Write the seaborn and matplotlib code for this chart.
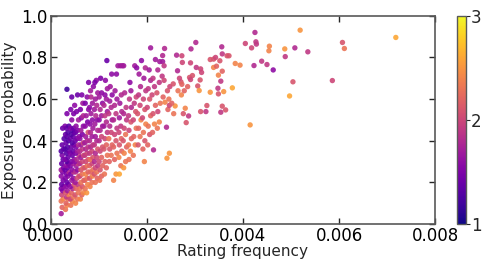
import matplotlib
matplotlib.use("Agg")
import matplotlib.pyplot as plt
import seaborn as sns
import pandas as pd
from matplotlib.colors import Normalize
from matplotlib.cm import ScalarMappable

rating_frequency = [
    0.00022, 0.00024, 0.00022, 0.00026, 0.00023, 0.00025, 0.00022, 0.00027, 0.00023, 0.00026, 0.00022, 0.00025,
    0.00022, 0.00027, 0.00023, 0.00026, 0.00024, 0.00022, 0.00027, 0.00024, 0.00028, 0.00025, 0.00030,
    0.00031, 0.00034, 0.00032, 0.00036, 0.00033, 0.00038, 0.00031, 0.00035, 0.00032, 0.00037, 0.00034, 0.00031,
    0.00036, 0.00033, 0.00038, 0.00030, 0.00035, 0.00032, 0.00037, 0.00034, 0.00031, 0.00036, 0.00033, 0.00038,
    0.00030, 0.00035, 0.00032, 0.00037, 0.00034, 0.00031, 0.00036, 0.00033, 0.00038, 0.00034, 0.00034,
    0.00042, 0.00045, 0.00041, 0.00048, 0.00043, 0.00046, 0.00041, 0.00049, 0.00044, 0.00047, 0.00042, 0.00048,
    0.00045, 0.00041, 0.00047, 0.00043, 0.00049, 0.00045, 0.00041, 0.00047, 0.00043, 0.00049, 0.00045, 0.00041,
    0.00047, 0.00043, 0.00049, 0.00045, 0.00041, 0.00048, 0.00044, 0.00042, 0.00044, 0.00048,
    0.00052, 0.00056, 0.00051, 0.00058, 0.00053, 0.00057, 0.00051, 0.00055, 0.00059, 0.00052, 0.00056, 0.00053,
    0.00058, 0.00051, 0.00055, 0.00059, 0.00052, 0.00056, 0.00053, 0.00058, 0.00051, 0.00055, 0.00059, 0.00052,
    0.00056, 0.00053, 0.00058, 0.00054, 0.00056, 0.00050,
    0.00062, 0.00065, 0.00068, 0.00061, 0.00066, 0.00063, 0.00069, 0.00061, 0.00066, 0.00063, 0.00068, 0.00061,
    0.00066, 0.00063, 0.00069, 0.00061, 0.00066, 0.00063, 0.00068, 0.00061, 0.00066, 0.00063, 0.00068, 0.00064,
    0.00062, 0.00067, 0.00065, 0.00068,
    0.00075, 0.00072, 0.00077, 0.00071, 0.00076, 0.00073, 0.00078, 0.00071, 0.00076, 0.00073, 0.00078, 0.00071,
    0.00076, 0.00073, 0.00078, 0.00071, 0.00076, 0.00073, 0.00078, 0.00072, 0.00077, 0.00074, 0.00079, 0.00072,
    0.00076, 0.00079,
    0.00082, 0.00086, 0.00081, 0.00087, 0.00083, 0.00088, 0.00081, 0.00086, 0.00083, 0.00088, 0.00081, 0.00086,
    0.00083, 0.00088, 0.00081, 0.00086, 0.00083, 0.00088, 0.00082, 0.00087, 0.00084, 0.00081, 0.00087, 0.00084,
    0.00089, 0.00083,
    0.00093, 0.00097, 0.00091, 0.00096, 0.00093, 0.00098, 0.00091, 0.00096, 0.00093, 0.00098, 0.00091, 0.00096,
    0.00093, 0.00098, 0.00092, 0.00097, 0.00094, 0.00091, 0.00096, 0.00093, 0.00098, 0.00095, 0.00092,
    0.00102, 0.00106, 0.00103, 0.00108, 0.00101, 0.00106, 0.00103, 0.00108, 0.00101, 0.00106, 0.00103, 0.00108,
    0.00101, 0.00106, 0.00103, 0.00108, 0.00101, 0.00106, 0.00104,
    0.00112, 0.00116, 0.00113, 0.00118, 0.00111, 0.00116, 0.00113, 0.00118, 0.00111, 0.00116, 0.00113, 0.00118,
    0.00111, 0.00116, 0.00113, 0.00118, 0.00117, 0.00114,
    0.00122, 0.00126, 0.00123, 0.00128, 0.00121, 0.00126, 0.00123, 0.00128, 0.00121, 0.00126, 0.00123, 0.00128,
    0.00124, 0.00127,
    0.00131, 0.00136, 0.00133, 0.00138, 0.00131, 0.00136, 0.00133, 0.00138, 0.00131, 0.00136, 0.00133, 0.00138,
    0.00134, 0.00137, 0.00140,
    0.00143, 0.00146, 0.00142, 0.00148, 0.00143, 0.00147, 0.00142, 0.00146, 0.00143, 0.00148, 0.00144, 0.00147,
    0.00145, 0.00149,
    0.00152, 0.00156, 0.00153, 0.00158, 0.00151, 0.00156, 0.00153, 0.00158, 0.00152, 0.00157, 0.00154, 0.00152,
    0.00163, 0.00166, 0.00162, 0.00168, 0.00163, 0.00167, 0.00162, 0.00168, 0.00164, 0.00167, 0.00165,
    0.00172, 0.00176, 0.00173, 0.00178, 0.00172, 0.00177, 0.00174, 0.00178, 0.00175, 0.00179,
    0.00182, 0.00186, 0.00183, 0.00188, 0.00181, 0.00186, 0.00183, 0.00187, 0.00184, 0.00189,
    0.00195, 0.00192, 0.00196, 0.00193, 0.00198, 0.00191, 0.00196, 0.00193, 0.00198, 0.00194, 0.00197,
    0.00202, 0.00206, 0.00203, 0.00208, 0.00201, 0.00206, 0.00203, 0.00208, 0.00208, 0.00205,
    0.00214, 0.00212, 0.00216, 0.00213, 0.00218, 0.00211, 0.00216, 0.00213, 0.00218,
    0.00222, 0.00226, 0.00223, 0.00228, 0.00221, 0.00226, 0.00223, 0.00227,
    0.00233, 0.00237, 0.00233, 0.00236, 0.00232, 0.00236, 0.00234, 0.00238, 0.00241, 0.00242, 0.00247, 0.00244,
    0.00247, 0.00246, 0.00243, 0.00248,
    0.00255, 0.00259, 0.00252, 0.00256, 0.00262, 0.00264, 0.00271, 0.00273, 0.00273, 0.00274, 0.00265, 0.00272,
    0.00268, 0.00278, 0.00280, 0.00276,
    0.00282, 0.00287, 0.00289, 0.00295, 0.00291, 0.00291, 0.00292, 0.00302, 0.00303, 0.00312, 0.00314, 0.00311,
    0.00306, 0.00309, 0.00312, 0.00285,
    0.00323, 0.00325, 0.00332, 0.00332, 0.00339, 0.00343, 0.00339, 0.00345, 0.00348, 0.00349, 0.00349, 0.00352,
    0.00354, 0.00354, 0.00356, 0.00357, 0.00357, 0.00357, 0.00360, 0.00364, 0.00367, 0.00371, 0.00378,
    0.00384, 0.00394, 0.00405, 0.00415, 0.00418, 0.00423, 0.00425, 0.00427, 0.00428, 0.00439, 0.00450, 0.00454,
    0.00455, 0.00463, 0.00487, 0.00488, 0.00497, 0.00504, 0.00508, 0.00519, 0.00535, 0.00586, 0.00607, 0.00611,
    0.00718,
]

exposure_probability = [
    0.05, 0.08, 0.11, 0.12, 0.14, 0.16, 0.17, 0.18, 0.19, 0.21, 0.23, 0.25,
    0.26, 0.27, 0.29, 0.31, 0.33, 0.35, 0.36, 0.38, 0.41, 0.46, 0.47,
    0.07, 0.09, 0.10, 0.12, 0.13, 0.14, 0.15, 0.16, 0.18, 0.19, 0.20, 0.22,
    0.23, 0.24, 0.25, 0.26, 0.27, 0.28, 0.29, 0.30, 0.31, 0.32, 0.34, 0.35,
    0.36, 0.37, 0.39, 0.40, 0.42, 0.43, 0.44, 0.46, 0.47, 0.53, 0.647,
    0.09, 0.11, 0.12, 0.13, 0.15, 0.17, 0.18, 0.19, 0.21, 0.22, 0.24, 0.25,
    0.26, 0.28, 0.29, 0.30, 0.31, 0.33, 0.34, 0.35, 0.37, 0.38, 0.39, 0.41,
    0.42, 0.43, 0.44, 0.45, 0.46, 0.46, 0.50, 0.55, 0.61, 0.53,
    0.10, 0.12, 0.14, 0.15, 0.17, 0.19, 0.20, 0.22, 0.23, 0.25, 0.26, 0.28,
    0.29, 0.30, 0.31, 0.33, 0.34, 0.35, 0.37, 0.38, 0.40, 0.41, 0.42, 0.44,
    0.45, 0.47, 0.50, 0.54, 0.62, 0.57,
    0.12, 0.14, 0.15, 0.17, 0.18, 0.20, 0.21, 0.23, 0.24, 0.26, 0.27, 0.29,
    0.30, 0.32, 0.33, 0.35, 0.36, 0.38, 0.39, 0.41, 0.43, 0.45, 0.47, 0.51,
    0.55, 0.58, 0.62, 0.52,
    0.15, 0.17, 0.19, 0.21, 0.22, 0.24, 0.25, 0.27, 0.28, 0.30, 0.31, 0.33,
    0.34, 0.36, 0.37, 0.39, 0.40, 0.42, 0.44, 0.47, 0.49, 0.52, 0.55, 0.58,
    0.61, 0.68,
    0.18, 0.20, 0.22, 0.23, 0.25, 0.26, 0.28, 0.29, 0.31, 0.32, 0.34, 0.35,
    0.37, 0.38, 0.40, 0.42, 0.44, 0.46, 0.48, 0.50, 0.53, 0.56, 0.58, 0.61,
    0.66, 0.64,
    0.20, 0.22, 0.24, 0.25, 0.27, 0.28, 0.30, 0.32, 0.34, 0.36, 0.38, 0.40,
    0.42, 0.45, 0.48, 0.50, 0.52, 0.55, 0.57, 0.60, 0.63, 0.69, 0.68,
    0.21, 0.23, 0.26, 0.28, 0.30, 0.32, 0.35, 0.37, 0.40, 0.42, 0.45, 0.47,
    0.50, 0.52, 0.55, 0.58, 0.61, 0.63, 0.70,
    0.24, 0.27, 0.30, 0.33, 0.36, 0.38, 0.41, 0.44, 0.47, 0.49, 0.52, 0.54,
    0.57, 0.60, 0.62, 0.65, 0.785, 0.69,
    0.30, 0.33, 0.36, 0.38, 0.41, 0.44, 0.47, 0.50, 0.53, 0.56, 0.59, 0.62,
    0.66, 0.72,
    0.21, 0.24, 0.31, 0.34, 0.37, 0.40, 0.43, 0.46, 0.50, 0.53, 0.57, 0.60,
    0.64, 0.72, 0.76,
    0.24, 0.28, 0.32, 0.35, 0.38, 0.41, 0.44, 0.47, 0.51, 0.54, 0.58, 0.62,
    0.76, 0.76,
    0.27, 0.30, 0.34, 0.37, 0.40, 0.43, 0.46, 0.50, 0.53, 0.56, 0.63, 0.76,
    0.31, 0.35, 0.38, 0.41, 0.45, 0.49, 0.52, 0.56, 0.60, 0.64, 0.68,
    0.33, 0.38, 0.42, 0.46, 0.50, 0.54, 0.58, 0.61, 0.76, 0.75,
    0.38, 0.42, 0.46, 0.50, 0.53, 0.57, 0.62, 0.66, 0.72, 0.785,
    0.30, 0.36, 0.40, 0.44, 0.48, 0.51, 0.55, 0.60, 0.64, 0.70, 0.75,
    0.38, 0.43, 0.47, 0.52, 0.56, 0.60, 0.65, 0.69, 0.846, 0.74,
    0.356, 0.44, 0.48, 0.53, 0.57, 0.62, 0.66, 0.70, 0.79,
    0.46, 0.49, 0.54, 0.58, 0.63, 0.68, 0.74, 0.78,
    0.809, 0.843, 0.78, 0.76, 0.71, 0.69, 0.61, 0.585, 0.465, 0.316, 0.340, 0.55,
    0.57, 0.60, 0.64, 0.66,
    0.673, 0.567, 0.58, 0.53, 0.811, 0.736, 0.683, 0.671, 0.808, 0.776, 0.64, 0.62,
    0.70, 0.64, 0.556, 0.53,
    0.487, 0.519, 0.704, 0.713, 0.694, 0.774, 0.841, 0.872, 0.752, 0.745, 0.728, 0.692,
    0.663, 0.641, 0.540, 0.66,
    0.540, 0.569, 0.633, 0.790, 0.792, 0.800, 0.752, 0.758, 0.652, 0.625, 0.715, 0.784,
    0.686, 0.537, 0.851, 0.817, 0.734, 0.566, 0.636, 0.548, 0.808, 0.808, 0.654,
    0.771, 0.763, 0.867, 0.476, 0.846, 0.761, 0.920, 0.875, 0.864, 0.782, 0.766, 0.832,
    0.854, 0.740, 0.841, 0.804, 0.615, 0.683, 0.846, 0.931, 0.827, 0.689, 0.872, 0.843,
    0.896,
]

mean_rating = [
    1.7, 2.2, 2.3, 2.4, 2.0, 1.6, 1.5, 1.6, 1.4, 1.5, 1.6, 1.5,
    1.7, 1.5, 1.4, 1.4, 1.5, 1.3, 1.4, 1.4, 1.3, 1.4, 1.5,
    2.3, 2.4, 2.2, 2.3, 1.9, 2.4, 2.1, 1.7, 1.6, 1.5, 1.4, 1.5,
    1.6, 1.5, 1.8, 1.4, 1.4, 1.6, 1.5, 1.3, 1.5, 1.4, 1.3, 1.4,
    1.3, 1.3, 1.4, 1.3, 1.3, 1.4, 1.3, 1.4, 1.3, 1.5, 1.2,
    2.3, 2.4, 2.0, 2.3, 2.2, 1.8, 1.6, 2.1, 1.7, 1.6, 1.5, 1.9,
    1.6, 1.5, 1.7, 1.5, 1.6, 1.4, 1.5, 1.4, 1.4, 1.5, 1.3, 1.4,
    1.4, 1.3, 1.4, 1.3, 1.5, 1.4, 1.6, 1.5, 1.4, 1.5,
    2.4, 2.3, 2.1, 2.3, 2.2, 1.9, 1.7, 2.0, 2.2, 1.8, 1.6, 1.7,
    2.0, 1.6, 1.8, 1.9, 1.5, 1.7, 1.5, 1.8, 1.4, 1.5, 1.6, 1.4,
    1.5, 1.6, 1.7, 1.5, 1.4, 1.6,
    2.4, 2.2, 2.4, 2.3, 2.1, 2.3, 2.2, 2.0, 2.3, 2.1, 2.2, 1.8,
    2.0, 1.7, 2.1, 1.8, 1.9, 1.7, 2.0, 1.6, 1.5, 1.7, 1.6, 1.6,
    1.5, 1.7, 1.5, 1.8,
    2.5, 2.3, 2.4, 2.2, 2.3, 2.4, 2.2, 2.1, 2.3, 2.0, 2.1, 1.9,
    2.0, 1.8, 1.9, 1.7, 1.8, 1.7, 2.1, 1.6, 1.5, 1.7, 1.6, 1.5,
    1.6, 1.5,
    2.4, 2.3, 2.1, 2.4, 2.2, 2.3, 2.2, 2.0, 2.3, 2.1, 1.9, 2.0,
    1.8, 1.9, 1.8, 1.7, 1.8, 1.7, 1.6, 1.6, 1.7, 1.6, 1.7, 1.8,
    1.6, 1.7,
    2.3, 2.2, 2.1, 2.3, 2.0, 1.9, 1.8, 2.0, 1.8, 2.1, 1.9, 1.8,
    1.7, 1.8, 1.7, 1.6, 1.8, 1.7, 1.8, 1.7, 1.7, 1.6, 1.5,
    2.3, 2.2, 2.1, 2.2, 2.0, 2.2, 2.0, 2.1, 1.8, 2.0, 1.8, 1.7,
    1.6, 1.7, 1.8, 1.6, 1.7, 1.6, 1.5,
    2.3, 2.2, 2.2, 2.3, 2.1, 2.2, 2.0, 1.9, 1.7, 1.8, 1.9, 1.7,
    1.8, 1.7, 1.6, 1.7, 1.4, 1.6,
    2.2, 2.3, 2.1, 2.2, 2.3, 2.0, 1.8, 1.7, 1.9, 1.8, 1.7, 1.6,
    1.7, 1.6,
    2.4, 2.5, 2.2, 2.3, 2.2, 2.1, 2.0, 1.9, 1.8, 1.9, 1.8, 1.7,
    1.7, 1.6, 1.7,
    2.6, 2.3, 2.4, 2.2, 2.1, 2.2, 2.0, 1.9, 1.7, 1.8, 1.7, 1.8,
    1.7, 1.7,
    2.5, 2.3, 2.4, 2.2, 2.1, 2.3, 2.0, 1.9, 1.8, 1.9, 1.8, 1.7,
    2.3, 2.4, 2.3, 2.2, 2.0, 2.1, 1.9, 1.8, 1.9, 1.7, 1.6,
    2.3, 2.4, 2.2, 2.3, 2.0, 2.1, 1.9, 2.0, 1.7, 1.6,
    2.1, 2.3, 2.2, 2.4, 2.1, 2.0, 1.9, 1.8, 1.7, 1.6,
    2.4, 2.2, 2.1, 2.3, 2.4, 2.0, 2.1, 2.0, 1.9, 1.7, 1.8,
    2.2, 2.1, 2.3, 2.2, 2.0, 2.1, 1.9, 1.8, 1.7, 1.7,
    1.8, 2.2, 2.4, 2.1, 2.2, 2.0, 1.9, 1.9, 1.7,
    2.3, 2.4, 2.0, 2.3, 2.1, 1.9, 1.8, 1.7,
    1.8, 1.8, 1.7, 1.9, 1.9, 2.0, 2.2, 2.4, 1.8, 2.5, 2.5, 2.2,
    2.0, 2.3, 2.1, 2.0,
    2.1, 2.5, 2.2, 2.3, 1.8, 1.8, 2.1, 2.2, 2.0, 2.0, 2.3, 2.4,
    2.0, 2.2, 2.4, 2.1,
    2.1, 1.9, 2.1, 2.1, 2.0, 2.0, 1.8, 1.8, 1.9, 2.0, 2.0, 2.1,
    2.1, 2.5, 2.1, 2.2,
    1.9, 2.1, 2.5, 2.1, 2.1, 2.0, 2.4, 2.2, 1.9, 2.1, 2.4, 2.1,
    1.9, 1.9, 1.8, 1.9, 2.2, 2.1, 2.5, 2.1, 2.1, 2.1, 2.6,
    2.4, 2.4, 2.0, 2.5, 2.0, 1.8, 1.8, 1.9, 1.9, 1.9, 1.9, 2.4,
    2.4, 1.6, 2.5, 1.9, 2.6, 2.1, 1.8, 2.5, 1.9, 2.0, 2.1, 2.3,
    2.6,
]

x_ticks = [0.000, 0.002, 0.004, 0.006, 0.008]
y_ticks = [0.0, 0.2, 0.4, 0.6, 0.8, 1.0]
cbar_ticks = [1, 2, 3]

df = pd.DataFrame({
    "Rating frequency": rating_frequency,
    "Exposure probability": exposure_probability,
    "rating": mean_rating,
})

sns.set_style("white")
plt.rcParams["font.family"] = ["DejaVu Sans"]
plt.rcParams["xtick.direction"] = "in"
plt.rcParams["ytick.direction"] = "in"

fig = plt.figure(figsize=(4.82, 2.59), dpi=100)
ax = fig.add_axes([0.105, 0.135, 0.798, 0.804])
cax = fig.add_axes([0.949, 0.135, 0.017, 0.804])

norm = Normalize(vmin=1, vmax=3)
sns.scatterplot(data=df, x="Rating frequency", y="Exposure probability", hue="rating",
                palette="plasma", hue_norm=norm, legend=False, s=15, linewidth=0,
                alpha=0.9, ax=ax)

ax.set_xlim(0, 0.008)
ax.set_ylim(0, 1.0)
ax.set_xticks(x_ticks)
ax.set_yticks(y_ticks)
ax.set_xticklabels([f"{t:.3f}" for t in x_ticks])
ax.set_yticklabels([f"{t:.1f}" for t in y_ticks])
ax.tick_params(axis="both", which="both", direction="in", length=4, width=1,
               top=True, right=True, bottom=True, left=True, labelsize=12, pad=2,
               colors="0.15")
ax.tick_params(axis="both", labelcolor="black")
ax.set_xlabel("Rating frequency", fontsize=11, labelpad=-0.5)
ax.set_ylabel("Exposure probability", fontsize=11, labelpad=3)
for sp in ax.spines.values():
    sp.set_visible(True)
    sp.set_color("0.35")
    sp.set_linewidth(1.2)

sm = ScalarMappable(norm=norm, cmap="plasma")
cb = fig.colorbar(sm, cax=cax, ticks=cbar_ticks)
cb.ax.tick_params(labelsize=12, length=3, direction="out", pad=1)
cb.outline.set_edgecolor("0.35")
cb.outline.set_linewidth(1.0)

fig.savefig("out.png", dpi=100)
